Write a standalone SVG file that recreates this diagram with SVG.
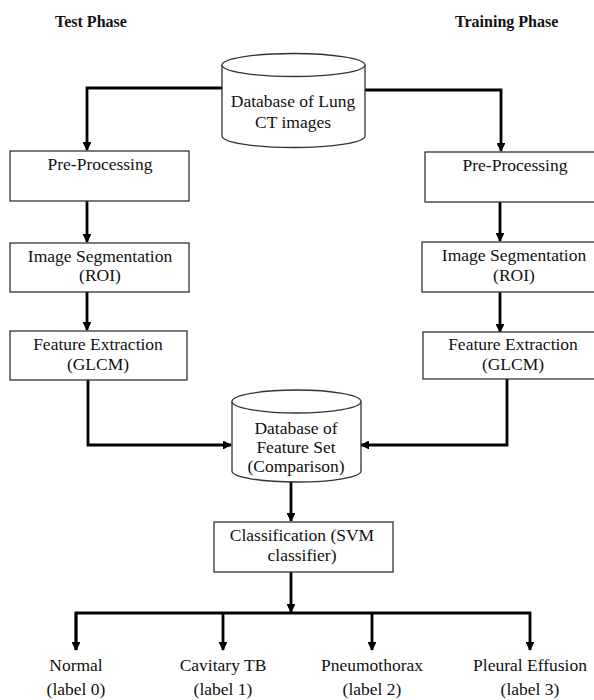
<svg xmlns="http://www.w3.org/2000/svg" width="594" height="700" viewBox="0 0 594 700">
<defs>
<style>
.box{fill:#fff;stroke:#333;stroke-width:1.3}
.cyl{fill:#fff;stroke:#333;stroke-width:1.3}
.t{font-family:"Liberation Serif","Times New Roman",serif;font-size:17.5px;fill:#111;text-anchor:middle}
.h{font-family:"Liberation Serif","Times New Roman",serif;font-size:16px;font-weight:bold;fill:#111}
.c{fill:none;stroke:#000;stroke-width:2.8}
</style>
<marker id="ah" viewBox="0 0 10 10" refX="9" refY="5" markerWidth="3.2" markerHeight="3.2" orient="auto" markerUnits="strokeWidth">
<path d="M0,0 L10,5 L0,10 z" fill="#000"/>
</marker>
</defs>
<rect width="594" height="700" fill="#fff"/>
<text class="h" x="55" y="27">Test Phase</text>
<text class="h" x="455" y="27">Training Phase</text>

<g id="connectors">
<path class="c" d="M222,88 H87 V150" marker-end="url(#ah)"/>
<path class="c" d="M365,90 H501 V151" marker-end="url(#ah)"/>
<path class="c" d="M87,201 V242" marker-end="url(#ah)"/>
<path class="c" d="M87,292 V330" marker-end="url(#ah)"/>
<path class="c" d="M500,202 V241" marker-end="url(#ah)"/>
<path class="c" d="M500,292 V332" marker-end="url(#ah)"/>
<path class="c" d="M88,380 V445 H231" marker-end="url(#ah)"/>
<path class="c" d="M507,379 V445 H361" marker-end="url(#ah)"/>
<path class="c" d="M291,482 V521" marker-end="url(#ah)"/>
<path class="c" d="M291,572 V612" marker-end="url(#ah)"/>
<path class="c" d="M76,650 V613 H530 V650" marker-end="url(#ah)"/>
<path class="c" d="M76,613 V650" marker-end="url(#ah)"/>
<path class="c" d="M223,613 V650" marker-end="url(#ah)"/>
<path class="c" d="M372,613 V650" marker-end="url(#ah)"/>
</g>

<g id="db-lung">
<path class="cyl" d="M222,65 V136 A71.5,11.5 0 0 0 365,136 V65"/>
<ellipse class="cyl" cx="293.5" cy="65" rx="71.5" ry="11.5"/>
<text class="t" x="293" y="107">Database of Lung</text>
<text class="t" x="293" y="128">CT images</text>
</g>

<g id="test-pre">
<rect class="box" x="10" y="151" width="179" height="50"/>
<text class="t" x="100" y="170">Pre-Processing</text>
</g>
<g id="test-seg">
<rect class="box" x="10" y="243" width="179" height="49"/>
<text class="t" x="100" y="262">Image Segmentation</text>
<text class="t" x="100" y="281">(ROI)</text>
</g>
<g id="test-fe">
<rect class="box" x="10" y="331" width="177" height="49"/>
<text class="t" x="98" y="350">Feature Extraction</text>
<text class="t" x="98" y="370">(GLCM)</text>
</g>

<g id="train-pre">
<rect class="box" x="425" y="152" width="190" height="50"/>
<text class="t" x="515" y="171">Pre-Processing</text>
</g>
<g id="train-seg">
<rect class="box" x="422" y="242" width="190" height="50"/>
<text class="t" x="514" y="261">Image Segmentation</text>
<text class="t" x="514" y="281">(ROI)</text>
</g>
<g id="train-fe">
<rect class="box" x="423" y="332" width="190" height="47"/>
<text class="t" x="513" y="350">Feature Extraction</text>
<text class="t" x="513" y="370">(GLCM)</text>
</g>

<g id="db-feature">
<path class="cyl" d="M232,401.5 V471 A64.5,11 0 0 0 361,471 V401.5"/>
<ellipse class="cyl" cx="296.5" cy="401.5" rx="64.5" ry="11.5"/>
<text class="t" x="296" y="434">Database of</text>
<text class="t" x="296" y="453">Feature Set</text>
<text class="t" x="296" y="472">(Comparison)</text>
</g>

<g id="classifier">
<rect class="box" x="214" y="522" width="179" height="50"/>
<text class="t" x="302" y="541">Classification (SVM</text>
<text class="t" x="302" y="561">classifier)</text>
</g>

<g id="out-normal">
<text class="t" x="76" y="671">Normal</text>
<text class="t" x="76" y="695">(label 0)</text>
</g>
<g id="out-cavitary">
<text class="t" x="223" y="671">Cavitary TB</text>
<text class="t" x="223" y="695">(label 1)</text>
</g>
<g id="out-pneumo">
<text class="t" x="372" y="671">Pneumothorax</text>
<text class="t" x="372" y="695">(label 2)</text>
</g>
<g id="out-pleural">
<text class="t" x="530" y="671">Pleural Effusion</text>
<text class="t" x="530" y="695">(label 3)</text>
</g>
</svg>
